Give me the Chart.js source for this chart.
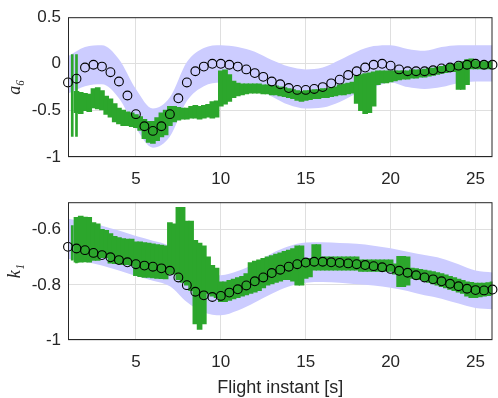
<!DOCTYPE html>
<html>
<head>
<meta charset="utf-8">
<script src="https://cdn.jsdelivr.net/npm/chart.js@4/dist/chart.umd.min.js"></script>
<style>
  html, body { margin: 0; padding: 0; background: #fff; }
  #wrap { position: relative; width: 498px; height: 398px; }
  canvas { position: absolute; left: 0; }
</style>
</head>
<body>
<div id="wrap">
  <canvas id="top" width="498" height="185" style="top:0"></canvas>
  <canvas id="bottom" width="498" height="213" style="top:185px"></canvas>
</div>
<script>
// tick labels
const xTicks = [5, 10, 15, 20, 25];
const a6Ticks = [-1, -0.5, 0, 0.5];
const k1Ticks = [-1, -0.8, -0.6];

// estimates (black circles), every 0.5 s
const estX = [1, 1.5, 2, 2.5, 3, 3.5, 4, 4.5, 5, 5.5, 6, 6.5, 7, 7.5, 8, 8.5, 9, 9.5, 10, 10.5,
  11, 11.5, 12, 12.5, 13, 13.5, 14, 14.5, 15, 15.5, 16, 16.5, 17, 17.5, 18, 18.5, 19, 19.5, 20, 20.5,
  21, 21.5, 22, 22.5, 23, 23.5, 24, 24.5, 25, 25.5, 26];
const a6Est = [-0.20, -0.16, -0.04, -0.01, -0.03, -0.09, -0.19, -0.34, -0.54, -0.67, -0.72, -0.67, -0.54, -0.37, -0.20, -0.08, -0.03, 0.00, 0.00, -0.01,
  -0.03, -0.06, -0.10, -0.14, -0.19, -0.22, -0.26, -0.28, -0.28, -0.27, -0.25, -0.21, -0.17, -0.12, -0.08, -0.04, -0.01, 0.00, -0.02, -0.06,
  -0.08, -0.08, -0.08, -0.07, -0.05, -0.04, -0.02, -0.01, 0.00, -0.01, -0.01];
const k1Est = [-0.662, -0.668, -0.674, -0.684, -0.692, -0.700, -0.710, -0.718, -0.725, -0.730, -0.734, -0.740, -0.749, -0.773, -0.801, -0.825, -0.838, -0.844, -0.840, -0.828,
  -0.816, -0.802, -0.787, -0.773, -0.757, -0.745, -0.734, -0.725, -0.719, -0.716, -0.716, -0.718, -0.720, -0.722, -0.725, -0.728, -0.732, -0.736, -0.742, -0.749,
  -0.756, -0.765, -0.773, -0.780, -0.787, -0.796, -0.805, -0.814, -0.819, -0.820, -0.817];

// confidence band (lavender), every 1 s
const bandX = [1, 2, 3, 4, 5, 6, 7, 8, 9, 10, 11, 12, 13, 14, 15, 16, 17, 18, 19, 20, 21, 22, 23, 24, 25, 26];
const a6BandHi = [0.08, 0.18, 0.20, 0.05, -0.27, -0.48, -0.36, 0.02, 0.17, 0.20, 0.18, 0.13, 0.04, -0.03, -0.06, -0.04, 0.04, 0.13, 0.19, 0.20, 0.16, 0.14, 0.18, 0.20, 0.20, 0.20];
const a6BandLo = [-0.32, -0.24, -0.22, -0.37, -0.69, -0.90, -0.78, -0.40, -0.24, -0.20, -0.21, -0.25, -0.35, -0.44, -0.48, -0.47, -0.41, -0.32, -0.25, -0.20, -0.25, -0.27, -0.25, -0.21, -0.19, -0.19];
const k1BandHi = [-0.560, -0.571, -0.585, -0.603, -0.623, -0.640, -0.660, -0.717, -0.755, -0.765, -0.750, -0.722, -0.686, -0.660, -0.646, -0.645, -0.648, -0.651, -0.658, -0.667, -0.680, -0.692, -0.704, -0.725, -0.748, -0.755];
const k1BandLo = [-0.705, -0.716, -0.730, -0.748, -0.768, -0.785, -0.805, -0.862, -0.900, -0.910, -0.893, -0.864, -0.832, -0.806, -0.792, -0.790, -0.792, -0.798, -0.802, -0.810, -0.822, -0.838, -0.850, -0.868, -0.884, -0.888];

// measurements (green), min/max every 0.25 s
const measX = [1.5, 1.75, 2, 2.25, 2.5, 2.75, 3, 3.25, 3.5, 3.75, 4, 4.25, 4.5, 4.75, 5, 5.25, 5.5, 5.75, 6, 6.25,
  6.5, 6.75, 7, 7.25, 7.5, 7.75, 8, 8.25, 8.5, 8.75, 9, 9.25, 9.5, 9.75, 10, 10.25, 10.5, 10.75, 11, 11.25,
  11.5, 11.75, 12, 12.25, 12.5, 12.75, 13, 13.25, 13.5, 13.75, 14, 14.25, 14.5, 14.75, 15, 15.25, 15.5, 15.75, 16, 16.25,
  16.5, 16.75, 17, 17.25, 17.5, 17.75, 18, 18.25, 18.5, 18.75, 19, 19.25, 19.5, 19.75, 20, 20.25, 20.5, 20.75, 21, 21.25,
  21.5, 21.75, 22, 22.25, 22.5, 22.75, 23, 23.25, 23.5, 23.75, 24, 24.25, 24.5, 24.75, 25, 25.25, 25.5, 25.75, 26];
const a6MeasLo = [-0.52, -0.53, -0.50, -0.51, -0.47, -0.48, -0.49, -0.54, -0.57, -0.62, -0.64, -0.66, -0.66, -0.67, -0.68, -0.71, -0.80, -0.84, -0.85, -0.82,
  -0.78, -0.76, -0.66, -0.62, -0.60, -0.59, -0.59, -0.58, -0.58, -0.59, -0.58, -0.57, -0.58, -0.57, -0.45, -0.43, -0.40, -0.36, -0.34, -0.33,
  -0.32, -0.31, -0.31, -0.31, -0.32, -0.32, -0.33, -0.33, -0.34, -0.35, -0.36, -0.37, -0.39, -0.40, -0.39, -0.38, -0.37, -0.37, -0.36, -0.36,
  -0.35, -0.34, -0.33, -0.33, -0.32, -0.31, -0.42, -0.50, -0.53, -0.52, -0.45, -0.22, -0.20, -0.20, -0.19, -0.18, -0.17, -0.16, -0.16, -0.15,
  -0.15, -0.14, -0.14, -0.13, -0.12, -0.11, -0.10, -0.09, -0.08, -0.08, -0.27, -0.27, -0.22, -0.05, -0.05, -0.05, -0.05, -0.05, -0.05];
const a6MeasHi = [-0.30, -0.31, -0.32, -0.33, -0.27, -0.26, -0.29, -0.35, -0.38, -0.43, -0.48, -0.50, -0.52, -0.53, -0.55, -0.57, -0.60, -0.62, -0.62, -0.58,
  -0.53, -0.50, -0.46, -0.46, -0.47, -0.48, -0.48, -0.46, -0.45, -0.46, -0.45, -0.44, -0.41, -0.40, -0.08, -0.07, -0.12, -0.19, -0.21, -0.22,
  -0.22, -0.22, -0.22, -0.22, -0.23, -0.23, -0.24, -0.24, -0.25, -0.26, -0.27, -0.28, -0.29, -0.30, -0.29, -0.29, -0.28, -0.28, -0.27, -0.27,
  -0.26, -0.25, -0.23, -0.22, -0.21, -0.20, -0.13, -0.12, -0.11, -0.10, -0.09, -0.08, -0.08, -0.08, -0.08, -0.08, -0.08, -0.08, -0.08, -0.07,
  -0.07, -0.07, -0.06, -0.05, -0.05, -0.04, -0.03, -0.02, -0.01, 0.00, 0.01, 0.02, 0.04, 0.05, 0.03, 0.02, 0.02, 0.02, 0.02];
const k1MeasLo = [-0.716, -0.716, -0.715, -0.716, -0.710, -0.710, -0.700, -0.700, -0.720, -0.722, -0.722, -0.725, -0.725, -0.728, -0.765, -0.769, -0.772, -0.772, -0.773, -0.775,
  -0.776, -0.777, -0.760, -0.760, -0.780, -0.790, -0.800, -0.820, -0.940, -0.960, -0.940, -0.830, -0.840, -0.845, -0.860, -0.860, -0.855, -0.850, -0.845, -0.840,
  -0.835, -0.830, -0.825, -0.820, -0.810, -0.800, -0.795, -0.790, -0.785, -0.780, -0.780, -0.785, -0.800, -0.800, -0.775, -0.770, -0.745, -0.745, -0.745, -0.745,
  -0.745, -0.745, -0.745, -0.745, -0.745, -0.745, -0.745, -0.750, -0.750, -0.750, -0.750, -0.750, -0.750, -0.750, -0.750, -0.760, -0.805, -0.805, -0.800, -0.775,
  -0.778, -0.780, -0.785, -0.790, -0.795, -0.800, -0.805, -0.810, -0.815, -0.820, -0.825, -0.830, -0.840, -0.845, -0.845, -0.842, -0.840, -0.838, -0.835];
const k1MeasHi = [-0.556, -0.552, -0.555, -0.556, -0.575, -0.580, -0.600, -0.603, -0.615, -0.625, -0.630, -0.633, -0.635, -0.635, -0.645, -0.645, -0.648, -0.650, -0.652, -0.655,
  -0.657, -0.660, -0.575, -0.580, -0.520, -0.520, -0.570, -0.570, -0.640, -0.650, -0.660, -0.700, -0.730, -0.740, -0.790, -0.790, -0.785, -0.780, -0.775, -0.770,
  -0.760, -0.720, -0.715, -0.710, -0.705, -0.700, -0.695, -0.690, -0.685, -0.680, -0.675, -0.670, -0.660, -0.660, -0.705, -0.705, -0.655, -0.655, -0.700, -0.700,
  -0.700, -0.700, -0.700, -0.700, -0.700, -0.700, -0.700, -0.710, -0.710, -0.710, -0.710, -0.710, -0.710, -0.710, -0.710, -0.725, -0.698, -0.698, -0.700, -0.740,
  -0.742, -0.745, -0.748, -0.750, -0.753, -0.757, -0.760, -0.765, -0.770, -0.775, -0.780, -0.785, -0.790, -0.792, -0.795, -0.795, -0.795, -0.793, -0.790];

// thin vertical streaks at the very start of the green data
const spikeX = [1.25, 1.5];
const a6SpikeLo = [-0.78, -0.78];
const a6SpikeHi = [0.10, 0.10];
const k1SpikeLo = [-0.71, -0.72];
const k1SpikeHi = [-0.585, -0.56];

const GREEN = "#2ca62c";
const LAVENDER = "#ccccff";
const INK = "#262626";

Chart.defaults.font.family = "'Liberation Sans', Arial, sans-serif";
Chart.defaults.color = INK;

// MATLAB-style box around the axes
const frame = {
    id: "frame",
    afterDraw(chart) {
        const { ctx, chartArea: a } = chart;
        ctx.save();
        ctx.strokeStyle = INK;
        ctx.lineWidth = 1;
        ctx.strokeRect(a.left + 0.5, a.top + 0.5, a.right - a.left - 1, a.bottom - a.top - 1);
        ctx.restore();
    }
};

function pts(xs, ys) {
    return xs.map((x, i) => ({ x: x, y: ys[i] }));
}

function ranges(xs, lo, hi) {
    return xs.map((x, i) => ({ x: x, y: [lo[i], hi[i]] }));
}

function makePanel(id, p) {
    return new Chart(document.getElementById(id), {
        type: "line",
        data: {
            datasets: [
                {
                    data: pts(estX, p.est),
                    showLine: false,
                    pointRadius: 4.4,
                    pointBorderWidth: 1.1,
                    pointBorderColor: "#000",
                    pointBackgroundColor: "rgba(0,0,0,0)",
                    clip: false,
                    order: 0
                },
                {
                    type: "bar",
                    data: ranges(measX, p.measLo, p.measHi),
                    backgroundColor: GREEN,
                    barPercentage: 1,
                    categoryPercentage: 1,
                    inflateAmount: 0.7,
                    grouped: false,
                    order: 1
                },
                {
                    type: "bar",
                    data: ranges(spikeX, p.spikeLo, p.spikeHi),
                    backgroundColor: GREEN,
                    barThickness: 2,
                    grouped: false,
                    order: 1
                },
                {
                    data: pts(bandX, p.bandHi),
                    fill: "+1",
                    backgroundColor: LAVENDER,
                    borderColor: "rgba(0,0,0,0)",
                    borderWidth: 0,
                    pointRadius: 0,
                    cubicInterpolationMode: "monotone",
                    order: 2
                },
                {
                    data: pts(bandX, p.bandLo),
                    borderColor: "rgba(0,0,0,0)",
                    borderWidth: 0,
                    pointRadius: 0,
                    cubicInterpolationMode: "monotone",
                    order: 2
                }
            ]
        },
        options: {
            responsive: false,
            animation: false,
            events: [],
            layout: { padding: { top: p.padTop, right: 1, left: 0, bottom: 0 } },
            plugins: { legend: { display: false }, tooltip: { enabled: false } },
            scales: {
                x: {
                    type: "linear",
                    min: 1,
                    max: 26,
                    offset: false,
                    afterBuildTicks: s => { s.ticks = xTicks.map(v => ({ value: v })); },
                    afterFit: s => { s.height = p.xHeight; },
                    grid: { color: "#dfdfdf", drawTicks: false, offset: false },
                    border: { display: false },
                    ticks: { font: { size: 17 }, padding: 12, maxRotation: 0, callback: v => String(v) },
                    title: {
                        display: !!p.xTitle,
                        text: p.xTitle || "",
                        font: { size: 18, lineHeight: 1.1 },
                        padding: { top: 0, bottom: 0 }
                    }
                },
                y: {
                    min: p.yMin,
                    max: p.yMax,
                    afterBuildTicks: s => { s.ticks = p.yTicks.map(v => ({ value: v })); },
                    afterFit: s => { s.width = 68; },
                    grid: { color: "#dfdfdf", drawTicks: false },
                    border: { display: false },
                    ticks: { font: { size: 17 }, padding: 7, callback: v => String(v) },
                    title: {
                        display: true,
                        text: p.yTitle,
                        font: { family: "'Liberation Serif', 'DejaVu Serif', serif", style: "italic", size: 18 },
                        padding: { top: 4 }
                    }
                }
            }
        },
        plugins: [frame]
    });
}

makePanel("top", {
    est: a6Est, bandHi: a6BandHi, bandLo: a6BandLo,
    measLo: a6MeasLo, measHi: a6MeasHi, spikeLo: a6SpikeLo, spikeHi: a6SpikeHi,
    yMin: -1, yMax: 0.5, yTicks: a6Ticks, yTitle: "a\u2086",
    padTop: 15, xHeight: 28
});

makePanel("bottom", {
    est: k1Est, bandHi: k1BandHi, bandLo: k1BandLo,
    measLo: k1MeasLo, measHi: k1MeasHi, spikeLo: k1SpikeLo, spikeHi: k1SpikeHi,
    yMin: -1, yMax: -0.5, yTicks: k1Ticks, yTitle: "k\u2081",
    padTop: 14, xHeight: 58, xTitle: "Flight instant [s]"
});
</script>
</body>
</html>
